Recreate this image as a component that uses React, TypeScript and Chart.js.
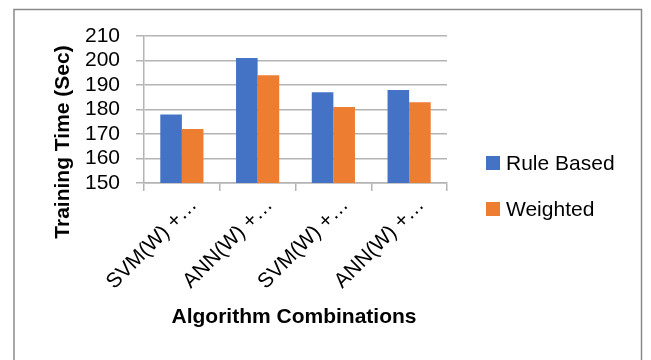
import React, { useEffect, useRef } from "react";
import { Chart, registerables } from "chart.js";

Chart.register(...registerables);

const categories = ["SVM(W) +…", "ANN(W) +…", "SVM(W) +…", "ANN(W) +…"];
const ruleBased = [178, 201, 187, 188];
const weighted = [172, 194, 181, 183];
const seriesNames = ["Rule Based", "Weighted"];
const seriesColors = ["#4472C4", "#ED7D31"];
const yTitle = "Training Time (Sec)";
const xTitle = "Algorithm Combinations";
const yMin = 150;
const yMax = 210;
const yStep = 10;

const FONT = "'Liberation Sans', Arial, sans-serif";
const GRID = "#b4b4b4";

const decorPlugin = {
  id: "decor",
  beforeDraw(chart: any) {
    const ctx = chart.ctx;
    ctx.save();
    ctx.fillStyle = "#ffffff";
    ctx.fillRect(0, 0, chart.width, chart.height);
    ctx.strokeStyle = "#8a8a8a";
    ctx.lineWidth = 1.5;
    ctx.strokeRect(14, 9.5, 627.5, 400);
    ctx.restore();
  },
  afterDraw(chart: any) {
    const ctx = chart.ctx;
    ctx.save();
    ctx.fillStyle = "#000";
    ctx.font = `bold 21px ${FONT}`;
    ctx.textAlign = "center";
    ctx.textBaseline = "alphabetic";
    ctx.fillText(xTitle, 294, 323);
    ctx.save();
    ctx.translate(69, 142);
    ctx.rotate(-Math.PI / 2);
    ctx.fillText(yTitle, 0, 0);
    ctx.restore();
    const ds = chart.data.datasets;
    const ys = [163, 209];
    ctx.font = `21px ${FONT}`;
    ctx.textAlign = "left";
    ctx.textBaseline = "middle";
    ds.forEach((d: any, i: number) => {
      ctx.fillStyle = d.backgroundColor;
      ctx.fillRect(486, ys[i] - 7, 14, 14);
      ctx.fillStyle = "#000";
      ctx.fillText(d.label, 506, ys[i] + 1);
    });
    ctx.restore();
  },
};

export default function App() {
  const ref = useRef<HTMLCanvasElement | null>(null);
  useEffect(() => {
    if (!ref.current) return;
    const chart = new Chart(ref.current, {
      type: "bar",
      data: {
        labels: categories,
        datasets: [
          {
            label: seriesNames[0],
            data: ruleBased,
            backgroundColor: seriesColors[0],
            categoryPercentage: 0.57,
            barPercentage: 1,
          },
          {
            label: seriesNames[1],
            data: weighted,
            backgroundColor: seriesColors[1],
            categoryPercentage: 0.57,
            barPercentage: 1,
          },
        ],
      },
      options: {
        animation: false,
        responsive: false,
        maintainAspectRatio: false,
        layout: { padding: { left: 0, top: 36, right: 204, bottom: 0 } },
        plugins: {
          legend: { display: false },
          tooltip: { enabled: false },
        },
        scales: {
          x: {
            grid: {
              display: true,
              drawOnChartArea: false,
              drawTicks: true,
              tickLength: 8,
              color: GRID,
              lineWidth: 1.5,
              offset: true,
            },
            border: { display: true, color: GRID, width: 1.5 },
            ticks: {
              font: { family: FONT, size: 21 },
              color: "#000",
              maxRotation: 45,
              minRotation: 45,
              autoSkip: false,
              labelOffset: 12,
              padding: 2,
            },
            afterFit(scale: any) {
              scale.height = 177;
            },
          },
          y: {
            min: yMin,
            max: yMax,
            grid: {
              color: GRID,
              lineWidth: 1.5,
              drawTicks: true,
              tickLength: 8,
            },
            border: { display: true, color: GRID, width: 1.5 },
            ticks: {
              stepSize: yStep,
              autoSkip: false,
              font: { family: FONT, size: 21 },
              color: "#000",
              padding: 16,
            },
            afterFit(scale: any) {
              scale.width = 144;
            },
          },
        },
      },
      plugins: [decorPlugin],
    } as any);
    return () => chart.destroy();
  }, []);
  return (
    <div style={{ position: "absolute", left: 0, top: 0, width: 651, height: 360 }}>
      <canvas ref={ref} width={651} height={360} style={{ width: 651, height: 360 }} />
    </div>
  );
}
